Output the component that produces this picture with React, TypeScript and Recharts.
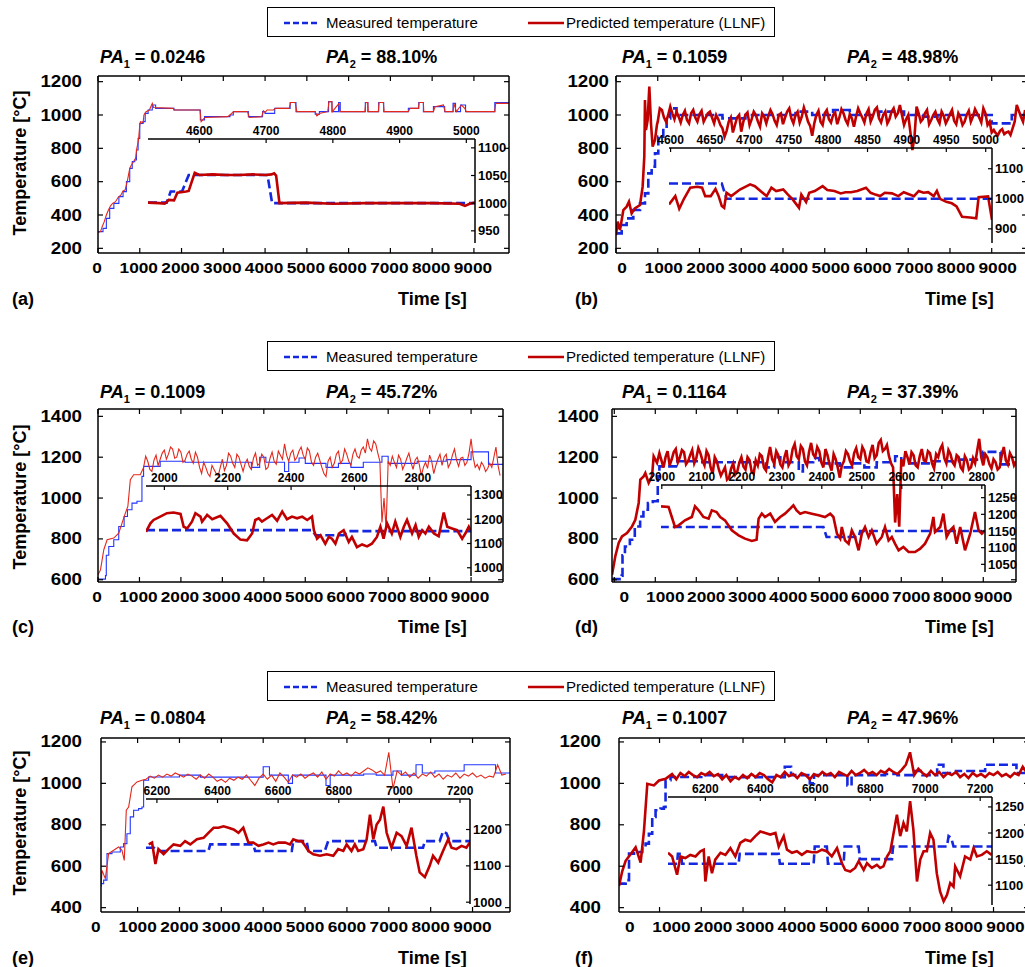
import React from 'react';
import { LineChart, Line, XAxis, YAxis } from 'recharts';

const FONT = '"Liberation Sans", Arial, Helvetica, sans-serif';
const BLUE = '#1428e0';
const BLUE_THIN = '#2236ff';
const RED = '#c00000';
const RED_THIN = '#e2281c';

// tick values
const MAIN_X_TICKS = [0, 1000, 2000, 3000, 4000, 5000, 6000, 7000, 8000, 9000];
const Y_TICKS_AB = [200, 400, 600, 800, 1000, 1200];
const Y_TICKS_CD = [600, 800, 1000, 1200, 1400];
const Y_TICKS_EF = [400, 600, 800, 1000, 1200];
const INSET_X_A = [4600, 4700, 4800, 4900, 5000];
const INSET_Y_A = [950, 1000, 1050, 1100];
const INSET_X_B = [4600, 4650, 4700, 4750, 4800, 4850, 4900, 4950, 5000];
const INSET_Y_B = [900, 1000, 1100];
const INSET_X_C = [2000, 2200, 2400, 2600, 2800];
const INSET_Y_C = [1000, 1100, 1200, 1300];
const INSET_X_D = [2000, 2100, 2200, 2300, 2400, 2500, 2600, 2700, 2800];
const INSET_Y_D = [1050, 1100, 1150, 1200, 1250];
const INSET_X_EF = [6200, 6400, 6600, 6800, 7000, 7200];
const INSET_Y_E = [1000, 1100, 1200];
const INSET_Y_F = [1100, 1150, 1200, 1250];

// (a) measured / predicted, time [s] -> temperature [°C]
const measA = [[0, 300], [120, 320], [200, 380], [280, 440], [380, 470], [500, 510], [600, 540], [680, 600], [760, 680], [820, 720], [880, 730], [920, 790], [960, 860], [1000, 950], [1080, 960], [1130, 1010], [1200, 1030], [1300, 1060], [1380, 1040], [1820, 1030], [2450, 970], [2550, 990], [3160, 1000], [3240, 1020], [3600, 990], [3940, 1020], [4000, 1010], [4230, 1040], [4600, 1075], [4740, 1020], [5200, 1005], [5300, 1020], [5520, 1080], [5600, 1020], [5760, 1075], [5800, 1020], [6400, 1075], [6460, 1020], [6720, 1075], [6840, 1020], [7430, 1040], [7680, 1075], [7790, 1020], [8030, 1050], [8300, 1020], [8500, 1070], [8560, 1020], [8680, 1060], [8800, 1020], [9500, 1075], [9850, 1075]];
const predA = [[0, 295], [60, 300], [100, 330], [150, 360], [200, 400], [250, 430], [300, 455], [350, 470], [420, 480], [480, 505], [550, 520], [600, 545], [650, 550], [700, 600], [760, 680], [800, 700], [850, 720], [900, 740], [930, 800], [970, 850], [1000, 940], [1020, 960], [1080, 955], [1100, 1000], [1150, 1020], [1230, 1030], [1300, 1070], [1330, 1045], [1800, 1040], [1820, 1030], [2440, 1030], [2470, 960], [2560, 985], [3100, 990], [3160, 1000], [3250, 1020], [3580, 1020], [3620, 985], [3920, 990], [3960, 1025], [4000, 1015], [4050, 1030], [4200, 1030], [4250, 1040], [4580, 1040], [4610, 1075], [4720, 1075], [4760, 1020], [5200, 1020], [5240, 995], [5320, 1010], [5500, 1020], [5530, 1080], [5600, 1080], [5610, 1020], [5770, 1070], [5790, 1020], [6390, 1020], [6410, 1075], [6460, 1075], [6470, 1020], [6710, 1020], [6730, 1075], [6830, 1075], [6850, 1020], [7430, 1020], [7470, 1040], [7670, 1040], [7690, 1075], [7790, 1075], [7800, 1020], [8030, 1020], [8070, 1050], [8270, 1060], [8310, 1020], [8500, 1020], [8520, 1070], [8580, 1020], [8700, 1060], [8780, 1040], [8820, 1020], [9500, 1020], [9520, 1070], [9850, 1070]];
const insetMeasA = [[4523, 1001], [4551, 1001], [4557, 1021], [4574, 1021], [4584, 1051], [4702, 1051], [4709, 1000], [5013, 1000]];
const insetPredA = [[4523, 1001], [4540, 1000], [4548, 999], [4554, 1006], [4562, 1005], [4567, 1019], [4580, 1021], [4584, 1022], [4593, 1055], [4600, 1051], [4620, 1052], [4640, 1051], [4660, 1051], [4680, 1052], [4700, 1051], [4708, 1052], [4712, 1054], [4715, 1050], [4720, 1000], [4760, 1001], [4800, 999], [4850, 1000], [4900, 1000], [4950, 1000], [4990, 999], [4998, 995], [5005, 999], [5013, 1001]];

// (b)
const measB = [[0, 290], [136, 340], [255, 380], [415, 430], [575, 470], [694, 530], [774, 650], [854, 690], [934, 770], [1013, 870], [1133, 920], [1213, 980], [1300, 1040], [1450, 1000], [2550, 980], [3100, 1000], [4300, 1020], [4700, 1000], [5200, 1030], [5600, 1000], [6300, 1020], [6900, 1000], [7350, 990], [7700, 1000], [9000, 950], [9480, 1000], [9850, 1000]];
const predBRise = [[0, 280], [40, 360], [96, 310], [176, 430], [255, 450], [311, 480], [375, 410], [450, 440], [575, 460], [638, 570], [678, 750], [694, 1090], [718, 910], [758, 970], [798, 1170], [838, 950], [878, 810], [934, 850], [980, 940]];
// every 50 s from 1000 s
const predBNoise = [960, 1040, 1030, 985, 960, 1000, 1050, 1010, 975, 1020, 990, 955, 1000, 1025, 970, 950, 1010, 1030, 985,
  960, 1005, 1025, 960, 985, 1010, 1020, 985, 950, 1000, 975, 940, 920, 870, 905, 960, 985, 895, 940, 985,
  1000, 900, 960, 1000, 1015, 940, 975, 1020, 1000, 960, 930, 1010, 990, 950, 995, 1030, 1005, 965, 940, 1000,
  1010, 945, 985, 1020, 1040, 980, 950, 1000, 1020, 955, 990, 1045, 1005, 960, 935, 875, 950, 1000, 1025, 960,
  940, 1010, 1030, 975, 955, 1000, 1015, 945, 985, 1035, 1010, 970, 945, 1005, 980, 930, 990, 1040, 1010, 985,
  955, 1010, 1035, 960, 990, 1030, 1045, 980, 955, 1000, 1020, 950, 975, 1020, 1040, 990, 1010, 1060, 1000, 940,
  975, 1000, 900, 790, 870, 1050, 1010, 960, 975, 1010, 1030, 945, 970, 1000, 1020, 975, 950, 1020, 995, 950,
  975, 1005, 1030, 965, 945, 1010, 985, 940, 960, 1000, 1025, 960, 990, 1035, 1010, 985, 955, 1040, 1010, 940,
  960, 895, 910, 890, 880, 905, 915, 885, 895, 900, 880, 920, 960, 1060, 1025, 990, 960, 1030];
const insetMeasB = [[4598, 1051], [4665, 1051], [4671, 1000], [5008, 1000]];
const insetPredB = [[4598, 981], [4606, 1009], [4611, 967], [4617, 1000], [4625, 1037], [4634, 1040], [4640, 1037], [4644, 1009], [4651, 1009], [4657, 1033], [4661, 1009], [4665, 976], [4668, 970], [4671, 1020], [4677, 1009], [4688, 1031], [4701, 1048], [4707, 1042], [4716, 1022], [4722, 1009], [4728, 1037], [4734, 1026], [4743, 1031], [4749, 1014], [4755, 998], [4763, 970], [4766, 1014], [4772, 989], [4776, 1020], [4783, 1026], [4793, 1042], [4799, 1029], [4808, 1026], [4816, 1018], [4822, 1022], [4829, 1022], [4837, 1026], [4848, 1037], [4854, 1020], [4860, 1014], [4866, 1009], [4872, 1020], [4881, 1018], [4889, 1009], [4896, 1022], [4909, 1009], [4915, 1026], [4921, 1020], [4927, 1022], [4934, 1009], [4938, 1026], [4942, 1000], [4950, 990], [4957, 985], [4963, 975], [4970, 940], [4980, 938], [4988, 935], [4991, 1005], [5003, 1008], [5008, 930]];

// (c) and (d) share the measured temperature
const measCD = [[-60, 603], [180, 620], [200, 720], [260, 763], [380, 796], [500, 861], [630, 910], [710, 943], [820, 975], [940, 984], [1060, 1106], [1100, 1155], [1500, 1180], [2100, 1175], [3700, 1150], [3900, 1200], [4050, 1175], [4500, 1130], [4600, 1175], [4850, 1196], [5000, 1170], [5500, 1150], [5800, 1170], [6100, 1150], [6400, 1175], [6850, 1205], [7000, 1170], [7700, 1180], [8400, 1188], [9000, 1226], [9420, 1165], [9850, 1165]];
const predCRise = [[0, 624], [60, 648], [140, 747], [220, 796], [380, 804], [500, 828], [580, 877], [660, 926], [720, 959], [780, 1090], [860, 1114], [1020, 1114]];
// every 50 s from 1100 s
const predCNoise = [1150, 1205, 1180, 1140, 1130, 1185, 1210, 1160, 1190, 1220, 1235, 1190, 1215, 1250, 1240, 1195, 1200,
  1240, 1225, 1175, 1185, 1215, 1230, 1190, 1170, 1225, 1200, 1150, 1120, 1175, 1150, 1120, 1105, 1160, 1140, 1120, 1110,
  1150, 1190, 1135, 1160, 1220, 1205, 1170, 1150, 1215, 1200, 1165, 1130, 1170, 1190, 1155, 1140, 1195, 1220, 1160, 1170,
  1215, 1200, 1140, 1150, 1195, 1225, 1180, 1165, 1230, 1210, 1190, 1265, 1210, 1180, 1220, 1235, 1185, 1200, 1230, 1250,
  1210, 1190, 1245, 1230, 1175, 1160, 1200, 1220, 1185, 1150, 1120, 1105, 1180, 1200, 1150, 1170, 1215, 1230, 1170, 1185,
  1240, 1215, 1180, 1160, 1215, 1240, 1205, 1195, 1235, 1250, 1220, 1290, 1245, 1230, 1280, 1265, 1220, 1180, 880, 1000,
  850, 1180, 1160, 1205, 1175, 1150, 1210, 1190, 1140, 1165, 1195, 1220, 1175, 1140, 1185, 1200, 1165, 1110, 1150, 1175,
  1145, 1210, 1180, 1120, 1160, 1190, 1215, 1160, 1200, 1215, 1150, 1170, 1210, 1240, 1185, 1155, 1195, 1200, 1160, 1175,
  1220, 1290, 1200, 1150, 1165, 1140, 1175, 1160, 1130, 1145, 1170, 1150, 1200, 1250, 1160, 1110];
const insetMeasC = [[1942, 1155], [2466, 1155], [2477, 1134], [2566, 1134], [2577, 1151], [2968, 1151]];
const insetPredC = [[1942, 1148], [1956, 1183], [1966, 1197], [1987, 1211], [2008, 1225], [2029, 1228], [2051, 1222], [2061, 1169], [2072, 1162], [2087, 1190], [2098, 1225], [2114, 1211], [2119, 1190], [2135, 1218], [2151, 1200], [2177, 1214], [2198, 1183], [2219, 1141], [2240, 1116], [2261, 1113], [2277, 1141], [2287, 1197], [2298, 1204], [2308, 1190], [2324, 1204], [2340, 1218], [2356, 1194], [2372, 1232], [2387, 1200], [2403, 1211], [2419, 1204], [2435, 1211], [2451, 1197], [2466, 1211], [2472, 1155], [2482, 1120], [2493, 1134], [2508, 1099], [2519, 1127], [2529, 1120], [2540, 1099], [2551, 1141], [2566, 1155], [2582, 1106], [2592, 1127], [2608, 1085], [2624, 1096], [2640, 1088], [2655, 1099], [2671, 1127], [2682, 1169], [2692, 1120], [2703, 1183], [2718, 1141], [2729, 1190], [2745, 1127], [2756, 1169], [2766, 1197], [2782, 1141], [2793, 1176], [2803, 1127], [2814, 1155], [2824, 1141], [2835, 1169], [2851, 1141], [2866, 1130], [2882, 1228], [2893, 1169], [2908, 1162], [2924, 1155], [2940, 1120], [2950, 1141], [2961, 1169], [2966, 1155]];

const predDRise = [[-56, 625], [25, 715], [107, 780], [188, 812], [310, 829], [432, 861], [513, 894], [595, 976], [635, 1090], [716, 1106], [757, 1122], [838, 1074], [920, 1106], [960, 1204], [1042, 1172]];
// every 50 s from 1100 s
const predDNoise = [1220, 1185, 1150, 1200, 1230, 1160, 1190, 1225, 1240, 1175, 1200, 1235, 1225, 1165, 1180, 1210, 1235,
  1170, 1195, 1245, 1220, 1185, 1160, 1230, 1210, 1150, 1120, 1200, 1180, 1140, 1110, 1130, 1150, 1090, 1100, 1145, 1170,
  1115, 1130, 1175, 1200, 1155, 1140, 1200, 1185, 1130, 1120, 1185, 1160, 1215, 1205, 1150, 1135, 1200, 1250, 1190, 1170,
  1230, 1210, 1165, 1150, 1200, 1235, 1160, 1180, 1240, 1265, 1205, 1190, 1255, 1240, 1180, 1160, 1225, 1270, 1215, 1200,
  1250, 1230, 1175, 1150, 1240, 1210, 1165, 1135, 1215, 1190, 1150, 1100, 1160, 1180, 1230, 1215, 1180, 1160, 1220, 1245,
  1200, 1190, 1250, 1230, 1180, 1175, 1225, 1260, 1195, 1210, 1270, 1285, 1230, 1240, 1260, 1205, 1170, 1150, 880, 1020,
  860, 1190, 1155, 1230, 1200, 1165, 1225, 1210, 1160, 1150, 1205, 1240, 1185, 1180, 1230, 1220, 1170, 1145, 1215, 1200,
  1240, 1260, 1195, 1170, 1235, 1215, 1175, 1160, 1210, 1200, 1150, 1135, 1205, 1185, 1140, 1150, 1195, 1170, 1230, 1290,
  1200, 1160, 1215, 1200, 1165, 1145, 1190, 1175, 1140, 1150, 1210, 1250, 1185, 1165, 1220, 1200, 1160, 1180];
const insetMeasD = [[1995, 1162], [2404, 1162], [2412, 1132], [2492, 1132], [2496, 1150], [2810, 1150]];
const insetPredD = [[1998, 1224], [2017, 1222], [2025, 1192], [2033, 1162], [2042, 1167], [2058, 1182], [2075, 1192], [2083, 1224], [2092, 1212], [2104, 1192], [2117, 1187], [2125, 1212], [2137, 1207], [2146, 1192], [2158, 1182], [2175, 1152], [2192, 1137], [2208, 1127], [2225, 1120], [2237, 1124], [2242, 1187], [2250, 1202], [2258, 1192], [2271, 1202], [2283, 1177], [2296, 1192], [2308, 1202], [2321, 1217], [2329, 1227], [2337, 1212], [2346, 1202], [2358, 1207], [2375, 1202], [2392, 1197], [2408, 1192], [2421, 1202], [2429, 1192], [2438, 1142], [2446, 1127], [2450, 1162], [2458, 1122], [2467, 1112], [2475, 1152], [2483, 1132], [2492, 1092], [2500, 1142], [2508, 1162], [2517, 1132], [2525, 1152], [2537, 1112], [2550, 1132], [2558, 1162], [2567, 1122], [2575, 1132], [2583, 1112], [2592, 1092], [2604, 1102], [2617, 1087], [2633, 1087], [2646, 1097], [2658, 1112], [2671, 1142], [2679, 1192], [2683, 1147], [2696, 1162], [2704, 1202], [2712, 1132], [2721, 1152], [2729, 1162], [2737, 1112], [2746, 1162], [2758, 1092], [2771, 1142], [2783, 1207], [2792, 1152], [2800, 1142], [2808, 1152]];

// (e) and (f) share the measured temperature
const measEF = [[0, 516], [189, 533], [269, 661], [388, 669], [587, 693], [666, 709], [745, 757], [825, 838], [905, 870], [1024, 878], [1104, 886], [1144, 1015], [1263, 1031], [2000, 1040], [2500, 1030], [3900, 1030], [4000, 1080], [4150, 1040], [4600, 1000], [4700, 1040], [5500, 990], [5600, 1040], [6400, 1045], [6700, 1040], [7100, 1060], [7300, 1040], [7650, 1090], [7800, 1050], [8100, 1060], [8700, 1060], [8800, 1090], [9100, 1090], [9550, 1050], [9900, 1050]];
const predERise = [[126, 500], [150, 580], [229, 540], [308, 661], [427, 677], [547, 693], [627, 677], [682, 628], [730, 870], [786, 886], [865, 983], [985, 1007], [1104, 1015]];
const predENoise = [1020, 1035, 1025, 1040, 1030, 1045, 1035, 1050,
  1040, 1030, 1045, 1035, 1020, 1040, 1025, 1045, 1030, 1010,
  1020, 1005, 1025, 1015, 1030, 1020, 1040, 1015, 990, 1025,
  1045, 1020, 1040, 1010, 1050, 1030, 1005, 1040, 1030, 1045,
  1025, 1040, 1050, 1030, 1055, 1020, 1045, 1035, 1060, 1040,
  1050, 1035, 1055, 1045, 1060, 1075, 1065, 1050, 1060, 1040,
  1150, 975, 1060, 1040, 1055, 1030, 1050, 1025, 1045, 1035,
  1055, 1030, 1045, 1020, 1040, 1030, 1050, 1025, 1045, 1035,
  1050, 1030, 1040, 1025, 1035, 1030, 1090, 1040, 1045];
const insetMeasE = [[6164, 1150], [6190, 1150], [6200, 1141], [6370, 1141], [6376, 1159], [6518, 1159], [6524, 1141], [6645, 1141], [6650, 1168], [6694, 1168], [6700, 1141], [6754, 1141], [6765, 1168], [6919, 1168], [6925, 1150], [7078, 1150], [7084, 1168], [7133, 1168], [7144, 1195], [7155, 1190], [7166, 1168], [7233, 1168]];
const insetPredE = [[6173, 1159], [6184, 1164], [6195, 1105], [6205, 1146], [6222, 1132], [6238, 1146], [6255, 1159], [6277, 1155], [6293, 1168], [6310, 1159], [6332, 1173], [6354, 1177], [6370, 1191], [6387, 1205], [6403, 1205], [6420, 1209], [6436, 1205], [6453, 1200], [6469, 1191], [6485, 1205], [6502, 1164], [6518, 1164], [6535, 1155], [6551, 1159], [6568, 1164], [6584, 1159], [6601, 1164], [6623, 1164], [6639, 1159], [6650, 1173], [6667, 1168], [6678, 1168], [6689, 1155], [6700, 1141], [6716, 1132], [6738, 1128], [6760, 1132], [6782, 1128], [6798, 1146], [6815, 1141], [6826, 1159], [6842, 1141], [6853, 1159], [6864, 1141], [6881, 1146], [6892, 1173], [6903, 1241], [6914, 1173], [6925, 1214], [6936, 1227], [6947, 1263], [6958, 1191], [6974, 1150], [6991, 1191], [7007, 1182], [7024, 1155], [7040, 1205], [7056, 1128], [7067, 1082], [7084, 1069], [7100, 1100], [7111, 1128], [7128, 1109], [7144, 1141], [7161, 1173], [7172, 1150], [7188, 1146], [7205, 1155], [7221, 1150], [7232, 1164]];

const predFRise = [[29, 505], [108, 577], [188, 626], [307, 658], [427, 691], [547, 618], [627, 771], [707, 998], [866, 990], [987, 1014], [1146, 1022]];
const predFNoise = [1030, 1045, 1020, 1050, 1035, 1055, 1040, 1030,
  1050, 1040, 1055, 1035, 1045, 1020, 1040, 1010, 1030, 1020,
  1040, 1025, 1045, 1030, 1050, 1040, 1020, 1005, 1040, 1030,
  1055, 1035, 1045, 1025, 1050, 1040, 1020, 1045, 1035, 1055,
  1040, 1050, 1030, 1055, 1045, 1035, 1060, 1040, 1050, 1065,
  1045, 1055, 1040, 1060, 1050, 1070, 1055, 1045, 1065, 1090,
  1150, 1040, 1070, 1050, 1035, 1060, 1040, 1055, 1030, 1050,
  1040, 1055, 1030, 1045, 1025, 1050, 1035, 1045, 1030, 1050,
  1040, 1055, 1035, 1045, 1030, 1050, 1040, 1080, 1050];
const insetMeasF = [[6064, 1141], [6097, 1141], [6100, 1160], [6112, 1160], [6115, 1141], [6321, 1141], [6325, 1160], [6467, 1160], [6471, 1141], [6594, 1141], [6598, 1174], [6642, 1174], [6646, 1141], [6703, 1141], [6707, 1174], [6758, 1174], [6762, 1150], [6879, 1150], [6883, 1174], [7079, 1174], [7085, 1194], [7095, 1190], [7103, 1174], [7243, 1174]];
const insetPredF = [[6064, 1162], [6079, 1155], [6097, 1120], [6109, 1155], [6127, 1152], [6145, 1158], [6164, 1155], [6182, 1165], [6194, 1168], [6200, 1107], [6212, 1155], [6224, 1123], [6236, 1149], [6255, 1162], [6273, 1158], [6291, 1171], [6309, 1155], [6327, 1181], [6345, 1187], [6364, 1184], [6382, 1194], [6400, 1203], [6418, 1200], [6436, 1197], [6455, 1200], [6467, 1174], [6485, 1194], [6497, 1168], [6515, 1162], [6533, 1165], [6551, 1158], [6570, 1165], [6588, 1163], [6606, 1163], [6624, 1168], [6642, 1165], [6660, 1155], [6679, 1171], [6697, 1142], [6709, 1129], [6727, 1126], [6745, 1133], [6758, 1146], [6776, 1129], [6788, 1142], [6806, 1133], [6824, 1139], [6836, 1133], [6848, 1136], [6861, 1155], [6873, 1165], [6885, 1200], [6897, 1235], [6909, 1194], [6921, 1219], [6933, 1203], [6945, 1261], [6957, 1206], [6970, 1107], [6982, 1149], [6994, 1165], [7006, 1165], [7018, 1200], [7030, 1187], [7042, 1123], [7054, 1088], [7067, 1069], [7079, 1081], [7091, 1104], [7103, 1097], [7109, 1136], [7127, 1117], [7145, 1155], [7164, 1149], [7176, 1171], [7188, 1155], [7206, 1158], [7224, 1165], [7242, 1158]];

type Row = { t: number; v: number };
const fromPairs = (p: number[][]): Row[] => p.map(([t, v]) => ({ t, v }));
const fromSamples = (t0: number, dt: number, vals: number[]): Row[] => vals.map((v, i) => ({ t: t0 + i * dt, v }));

type Box = { left: number; top: number; width: number; height: number };
type InsetCfg = { box: Box; xDomain: number[]; xTicks: number[]; yDomain: number[]; yTicks: number[]; meas: Row[]; pred: Row[] };
type Panel = {
  tag: string; pa1: string; pa2: string; row: number; col: number;
  box: Box; xDomain: number[]; yDomain: number[]; yTicks: number[];
  labelShift: number; yGap: number; thick: boolean;
  meas: Row[]; pred: Row[]; inset: InsetCfg;
};

const PANELS: Panel[] = [
  {
    tag: '(a)', pa1: '0.0246', pa2: '88.10%', row: 0, col: 0,
    box: { left: 98, top: 76, width: 411, height: 177 }, xDomain: [0, 9840], yDomain: [172, 1234], yTicks: Y_TICKS_AB,
    labelShift: -1, yGap: 16, thick: false, meas: fromPairs(measA), pred: fromPairs(predA),
    inset: { box: { left: 148, top: 139, width: 327, height: 104 }, xDomain: [4523, 5013], xTicks: INSET_X_A, yDomain: [928, 1116], yTicks: INSET_Y_A, meas: fromPairs(insetMeasA), pred: fromPairs(insetPredA) },
  },
  {
    tag: '(b)', pa1: '0.1059', pa2: '48.98%', row: 0, col: 1,
    box: { left: 616, top: 76, width: 411, height: 177 }, xDomain: [0, 9845], yDomain: [172, 1234], yTicks: Y_TICKS_AB,
    labelShift: 6, yGap: 7, thick: true, meas: fromPairs(measB), pred: [...fromPairs(predBRise), ...fromSamples(1000, 50, predBNoise)],
    inset: { box: { left: 669, top: 148, width: 323, height: 95 }, xDomain: [4598, 5008], xTicks: INSET_X_B, yDomain: [853, 1169], yTicks: INSET_Y_B, meas: fromPairs(insetMeasB), pred: fromPairs(insetPredB) },
  },
  {
    tag: '(c)', pa1: '0.1009', pa2: '45.72%', row: 1, col: 0,
    box: { left: 98, top: 409, width: 405, height: 173 }, xDomain: [0, 9770], yDomain: [589, 1436], yTicks: Y_TICKS_CD,
    labelShift: -1, yGap: 16, thick: false, meas: fromPairs(measCD), pred: [...fromPairs(predCRise), ...fromSamples(1100, 50, predCNoise)],
    inset: { box: { left: 146, top: 486, width: 325, height: 90 }, xDomain: [1942, 2968], xTicks: INSET_X_C, yDomain: [966, 1337], yTicks: INSET_Y_C, meas: fromPairs(insetMeasC), pred: fromPairs(insetPredC) },
  },
  {
    tag: '(d)', pa1: '0.1164', pa2: '37.39%', row: 1, col: 1,
    box: { left: 612, top: 409, width: 404, height: 173 }, xDomain: [-56, 9798], yDomain: [589, 1436], yTicks: Y_TICKS_CD,
    labelShift: 10, yGap: 13, thick: true, meas: fromPairs(measCD), pred: [...fromPairs(predDRise), ...fromSamples(1100, 50, predDNoise)],
    inset: { box: { left: 661, top: 485, width: 324, height: 87 }, xDomain: [1998, 2808], xTicks: INSET_X_D, yDomain: [1027, 1288], yTicks: INSET_Y_D, meas: fromPairs(insetMeasD), pred: fromPairs(insetPredD) },
  },
  {
    tag: '(e)', pa1: '0.0804', pa2: '58.42%', row: 2, col: 0,
    box: { left: 101, top: 738, width: 409, height: 174 }, xDomain: [126, 9895], yDomain: [379, 1219], yTicks: Y_TICKS_EF,
    labelShift: 0, yGap: 19, thick: false, meas: fromPairs(measEF), pred: [...fromPairs(predERise), ...fromSamples(1200, 100, predENoise)],
    inset: { box: { left: 146, top: 799, width: 324, height: 105 }, xDomain: [6164, 7233], xTicks: INSET_X_EF, yDomain: [995, 1284], yTicks: INSET_Y_E, meas: fromPairs(insetMeasE), pred: fromPairs(insetPredE) },
  },
  {
    tag: '(f)', pa1: '0.1007', pa2: '47.96%', row: 2, col: 1,
    box: { left: 619, top: 738, width: 410, height: 174 }, xDomain: [29, 9850], yDomain: [379, 1219], yTicks: Y_TICKS_EF,
    labelShift: 12, yGap: 18, thick: true, meas: fromPairs(measEF), pred: [...fromPairs(predFRise), ...fromSamples(1200, 100, predFNoise)],
    inset: { box: { left: 668, top: 797, width: 324, height: 108 }, xDomain: [6064, 7243], xTicks: INSET_X_EF, yDomain: [1062, 1269], yTicks: INSET_Y_F, meas: fromPairs(insetMeasF), pred: fromPairs(insetPredF) },
  },
];

const ROWS = [
  { legend: 7, title: 57, time: 299, temp: 163 },
  { legend: 341, title: 392, time: 627, temp: 497 },
  { legend: 671, title: 718, time: 958, temp: 823 },
];
const COLS = [
  { pa1: 100, pa2: 326, time: 398, tag: 12 },
  { pa1: 622, pa2: 847, time: 925, tag: 575 },
];

const AXIS_LINE = { stroke: '#000', strokeWidth: 1.5 };
const mainTickText = { fontFamily: FONT, fontWeight: 700, fontSize: 14.5 } as const;
const insetTickText = { fontFamily: FONT, fontWeight: 700, fontSize: 12 } as const;

function MainPlot({ p }: { p: Panel }) {
  const L = 70, B = 40, T = 8, R = 8;
  const { box } = p;
  const inX = (v: number) => v >= p.xDomain[0] && v <= p.xDomain[1];
  const measStyle = p.thick
    ? { stroke: BLUE, strokeWidth: 2.6, strokeDasharray: '9 4' }
    : { stroke: BLUE_THIN, strokeWidth: 1.1 };
  const predStyle = p.thick ? { stroke: RED, strokeWidth: 2.6 } : { stroke: RED_THIN, strokeWidth: 1.1 };
  return (
    <div style={{ position: 'absolute', left: box.left - L, top: box.top - T }}>
      <LineChart width={box.width + L + R} height={box.height + T + B} margin={{ top: T - 1, right: R - 1, left: 0, bottom: 0 }}>
        <XAxis xAxisId="b" orientation="bottom" dataKey="t" type="number" domain={p.xDomain} allowDataOverflow
          ticks={MAIN_X_TICKS} interval={0} height={B} axisLine={AXIS_LINE} tickLine={false} tickSize={0} tickMargin={0}
          tick={(t: any) => {
            const s = String(t.payload.value);
            return (
              <g>
                {inX(t.payload.value) && <line x1={t.x} x2={t.x} y1={t.y} y2={t.y - 5} stroke="#000" strokeWidth={1.2} />}
                <text x={t.x + p.labelShift} y={t.y + 15} textAnchor="middle" dominantBaseline="central" fill="#000"
                  textLength={s.length * 9.6} lengthAdjust="spacingAndGlyphs" style={mainTickText}>{s}</text>
              </g>
            );
          }} />
        <XAxis xAxisId="t" orientation="top" dataKey="t" type="number" domain={p.xDomain} allowDataOverflow
          ticks={MAIN_X_TICKS.filter(inX)} interval={0} height={1} axisLine={AXIS_LINE} tickLine={false} tickSize={0} tickMargin={0}
          tick={(t: any) => <line x1={t.x} x2={t.x} y1={t.y} y2={t.y + 5} stroke="#000" strokeWidth={1.2} />} />
        <YAxis yAxisId="l" orientation="left" type="number" domain={p.yDomain} allowDataOverflow
          ticks={p.yTicks} interval={0} width={L} axisLine={AXIS_LINE} tickLine={false} tickSize={0} tickMargin={0}
          tick={(t: any) => {
            const s = String(t.payload.value);
            return (
              <g>
                <line x1={t.x} x2={t.x + 5} y1={t.y} y2={t.y} stroke="#000" strokeWidth={1.2} />
                <text x={t.x - p.yGap} y={t.y} textAnchor="end" dominantBaseline="central" fill="#000"
                  textLength={s.length * 10.4} lengthAdjust="spacingAndGlyphs" style={{ ...mainTickText, fontSize: 16 }}>{s}</text>
              </g>
            );
          }} />
        <YAxis yAxisId="r" orientation="right" type="number" domain={p.yDomain} allowDataOverflow
          ticks={p.yTicks} interval={0} width={1} axisLine={AXIS_LINE} tickLine={false} tickSize={0} tickMargin={0}
          tick={(t: any) => <line x1={t.x} x2={t.x - 5} y1={t.y} y2={t.y} stroke="#000" strokeWidth={1.2} />} />
        <Line xAxisId="b" yAxisId="l" data={p.meas} dataKey="v" type="stepAfter" dot={false} isAnimationActive={false} {...measStyle} />
        <Line xAxisId="b" yAxisId="l" data={p.pred} dataKey="v" type="linear" dot={false} isAnimationActive={false} {...predStyle} />
      </LineChart>
    </div>
  );
}

function InsetPlot({ s }: { s: InsetCfg }) {
  const T = 24, R = 48, L = 22, B = 10;
  const { box } = s;
  return (
    <div style={{ position: 'absolute', left: box.left - L, top: box.top - T }}>
      <LineChart width={box.width + L + R} height={box.height + T + B} margin={{ top: 0, right: 0, left: L, bottom: B }}>
        <XAxis xAxisId="t" orientation="top" dataKey="t" type="number" domain={s.xDomain} allowDataOverflow
          ticks={s.xTicks} interval={0} height={T} axisLine={AXIS_LINE} tickLine={false} tickSize={0} tickMargin={0}
          tick={(t: any) => (
            <g>
              <line x1={t.x} x2={t.x} y1={t.y} y2={t.y + 4} stroke="#000" strokeWidth={1.2} />
              <text x={t.x} y={t.y - 8} textAnchor="middle" dominantBaseline="central" fill="#000" style={insetTickText}>{t.payload.value}</text>
            </g>
          )} />
        <YAxis yAxisId="r" orientation="right" type="number" domain={s.yDomain} allowDataOverflow
          ticks={s.yTicks} interval={0} width={R} axisLine={AXIS_LINE} tickLine={false} tickSize={0} tickMargin={0}
          tick={(t: any) => (
            <g>
              <line x1={t.x} x2={t.x - 4} y1={t.y} y2={t.y} stroke="#000" strokeWidth={1.2} />
              <text x={t.x + 3} y={t.y} textAnchor="start" dominantBaseline="central" fill="#000" style={{ ...insetTickText, fontSize: 13 }}>{t.payload.value}</text>
            </g>
          )} />
        <Line xAxisId="t" yAxisId="r" data={s.meas} dataKey="v" type="linear" dot={false} isAnimationActive={false}
          stroke={BLUE} strokeWidth={2.6} strokeDasharray="9 4" />
        <Line xAxisId="t" yAxisId="r" data={s.pred} dataKey="v" type="linear" dot={false} isAnimationActive={false}
          stroke={RED} strokeWidth={2.6} />
      </LineChart>
    </div>
  );
}

function Legend({ top }: { top: number }) {
  return (
    <div style={{ position: 'absolute', left: 267, top, width: 506, height: 28, border: '1px solid #000', fontFamily: FONT, fontSize: 15, color: '#000' }}>
      <svg width={40} height={28} style={{ position: 'absolute', left: 14, top: 0 }}>
        <line x1={2} x2={38} y1={15} y2={15} stroke={BLUE} strokeWidth={2.5} strokeDasharray="6 3" />
      </svg>
      <span style={{ position: 'absolute', left: 58, top: 6, whiteSpace: 'nowrap' }}>Measured temperature</span>
      <svg width={40} height={28} style={{ position: 'absolute', left: 258, top: 0 }}>
        <line x1={2} x2={38} y1={15} y2={15} stroke={RED} strokeWidth={2.5} />
      </svg>
      <span style={{ position: 'absolute', left: 298, top: 6, whiteSpace: 'nowrap' }}>Predicted temperature (LLNF)</span>
    </div>
  );
}

function Title({ x, y, n, value }: { x: number; y: number; n: number; value: string }) {
  return (
    <div style={{ position: 'absolute', left: x, top: y - 11, fontFamily: FONT, fontWeight: 700, fontSize: 18, lineHeight: '22px', whiteSpace: 'nowrap', color: '#000' }}>
      <i>PA</i><span style={{ fontSize: 11, position: 'relative', top: 5 }}>{n}</span> = {value}
    </div>
  );
}

const textStyle = { position: 'absolute' as const, fontFamily: FONT, fontWeight: 700, fontSize: 18, whiteSpace: 'nowrap' as const, color: '#000', lineHeight: '20px' };

export default function App() {
  return (
    <div style={{ position: 'absolute', left: 0, top: 0, width: 1025, height: 967, overflow: 'hidden', background: '#fff' }}>
      {ROWS.map((r, i) => <Legend key={i} top={r.legend} />)}
      {PANELS.map((p) => {
        const r = ROWS[p.row];
        const c = COLS[p.col];
        return (
          <React.Fragment key={p.tag}>
            <Title x={c.pa1} y={r.title} n={1} value={p.pa1} />
            <Title x={c.pa2} y={r.title} n={2} value={p.pa2} />
            <MainPlot p={p} />
            <InsetPlot s={p.inset} />
            <div style={{ ...textStyle, left: c.time, top: r.time - 10 }}>Time [s]</div>
            <div style={{ ...textStyle, left: c.tag, top: r.time - 10 }}>{p.tag}</div>
            {p.col === 0 && (
              <div style={{ ...textStyle, left: 20, top: r.temp, transform: 'translate(-50%, -50%) rotate(-90deg)' }}>Temperature [°C]</div>
            )}
          </React.Fragment>
        );
      })}
    </div>
  );
}
